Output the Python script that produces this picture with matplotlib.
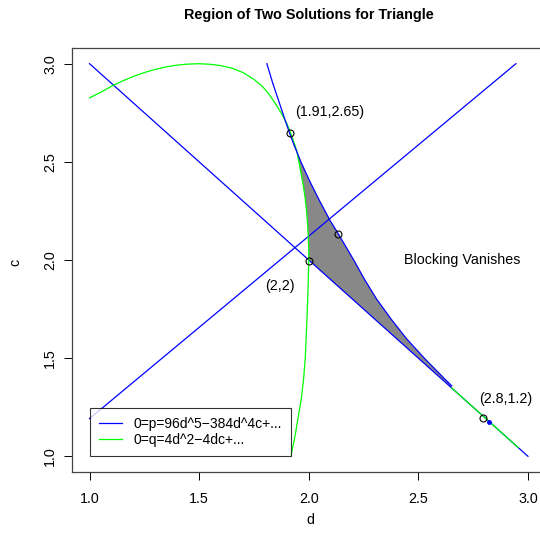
import matplotlib
matplotlib.use("Agg")
import matplotlib.pyplot as plt
from matplotlib.lines import Line2D

plt.rcParams['font.family'] = ['Liberation Sans', 'DejaVu Sans']

# ---- data ----
# straight line factor of p: c = 4 - d
line1_d = [1.0, 3.0]
line1_c = [3.0, 1.0]
# second straight line
line2_d = [1.0, 2.945]
line2_c = [1.192, 3.0]
# curved branch of p = 0
pcurve_d = [1.809, 1.836, 1.866, 1.896, 1.912, 1.928, 1.964, 2.005, 2.050, 2.098, 2.135,
            2.205, 2.255, 2.310, 2.375, 2.445, 2.527, 2.615, 2.652]
pcurve_c = [3.000, 2.900, 2.800, 2.700, 2.648, 2.600, 2.500, 2.400, 2.300, 2.200, 2.133,
            2.000, 1.900, 1.800, 1.700, 1.600, 1.500, 1.400, 1.359]
# q = 0 curve, upper arc
qup_d = [1.000, 1.050, 1.100, 1.150, 1.200, 1.250, 1.300, 1.350, 1.400, 1.450, 1.500,
         1.550, 1.600, 1.650, 1.700, 1.750, 1.780, 1.800, 1.820, 1.840, 1.860, 1.880,
         1.900, 1.920, 1.935]
qup_c = [2.826, 2.854, 2.885, 2.912, 2.935, 2.955, 2.971, 2.984, 2.993, 2.998, 3.000,
         2.997, 2.990, 2.977, 2.955, 2.920, 2.893, 2.870, 2.842, 2.810, 2.775, 2.738,
         2.695, 2.640, 2.590]
# q = 0 curve, part bounding the shaded region
qmid_d = [1.945, 1.955, 1.965, 1.975, 1.983, 1.990, 1.995, 1.998, 2.000, 2.000]
qmid_c = [2.558, 2.500, 2.440, 2.380, 2.320, 2.250, 2.180, 2.115, 2.050, 2.000]
# q = 0 curve, lower part
qlow_d = [2.000, 1.998, 1.995, 1.992, 1.988, 1.984, 1.977, 1.967, 1.952, 1.937, 1.918]
qlow_c = [2.000, 1.900, 1.800, 1.700, 1.600, 1.500, 1.400, 1.300, 1.200, 1.100, 1.000]
# q = 0 also along c = 4 - d segment
qline_d = [2.652, 2.955]
qline_c = [1.348, 1.045]
# marked points
pts_d = [1.913, 2.134, 2.001, 2.797]
pts_c = [2.648, 2.131, 1.996, 1.194]
extra_d = [2.820]
extra_c = [1.175]
# annotations
ann_text = ["(1.91,2.65)", "(2,2)", "(2.8,1.2)", "Blocking Vanishes"]
ann_d = [2.097, 1.869, 2.899, 2.699]
ann_c = [2.752, 1.869, 1.290, 2.002]
ticks = [1.0, 1.5, 2.0, 2.5, 3.0]
tick_labels = ["1.0", "1.5", "2.0", "2.5", "3.0"]
legend_labels = ["0=p=96d^5\u2212384d^4c+...", "0=q=4d^2\u22124dc+..."]

W = H = 540
fig = plt.figure(figsize=(5.4, 5.4), dpi=100)
L, R, T, B = 72, 545.5, 48, 472
ax = fig.add_axes([L / W, 1 - B / H, (R - L) / W, (B - T) / H])
ax.set_xlim(0.92, 3.08)
ax.set_ylim(0.92, 3.08)

blue = '#0000FF'
green = '#00FF00'
fs = 10.3

# shaded region: q-curve (left), line c=4-d (bottom), p-curve (right)
region_d = qmid_d + [qline_d[0]] + pcurve_d[::-1]
region_c = qmid_c + [qline_c[0]] + pcurve_c[::-1]
ax.fill(region_d[:-4], region_c[:-4], color='#888888', lw=0, zorder=1)

ax.plot(line1_d, line1_c, color=blue, lw=0.9, zorder=2)
ax.plot(line2_d, line2_c, color=blue, lw=0.9, zorder=2)
ax.plot(qup_d + qmid_d + qlow_d, qup_c + qmid_c + qlow_c, color=green, lw=0.9, zorder=2)
ax.plot(pcurve_d, pcurve_c, color=blue, lw=0.9, zorder=3)
ax.plot(qline_d, qline_c, color=green, lw=0.9, zorder=3)
ax.plot(pts_d, pts_c, 'o', mfc='none', mec='black', ms=5, mew=0.8, zorder=5)
ax.plot(extra_d, extra_c, 'o', color=blue, ms=2.5, zorder=4)

for t, d, c in zip(ann_text, ann_d, ann_c):
    ax.text(d, c, t, ha='center', va='center', fontsize=fs)

ax.set_xticks(ticks)
ax.set_xticklabels(tick_labels)
ax.set_yticks(ticks)
ax.set_yticklabels(tick_labels, rotation=90, va='center')
ax.tick_params(direction='out', length=5.8, width=0.7, labelsize=fs)
ax.tick_params(axis='x', pad=8.5)
ax.tick_params(axis='y', pad=5)
for s in ax.spines.values():
    s.set_linewidth(0.9)
    s.set_color('#444444')

fig.text((L + R) / 2 / W, 1 - 15 / H, "Region of Two Solutions for Triangle",
         ha='center', va='center', fontsize=10.4, fontweight='bold')
fig.text(310 / W, 1 - 520 / H, "d", ha='center', va='center', fontsize=fs)
fig.text(15 / W, 1 - 262 / H, "c", ha='center', va='center', fontsize=fs, rotation=90)

handles = [Line2D([0], [0], color=blue, lw=0.9), Line2D([0], [0], color=green, lw=0.9)]
leg = ax.legend(handles, legend_labels, loc='lower left', bbox_to_anchor=(1.0, 1.0),
                bbox_transform=ax.transData, fontsize=10, frameon=True, fancybox=False,
                borderaxespad=0, handlelength=1.7, handletextpad=0.8, borderpad=0.65,
                labelspacing=0.15)
leg.get_frame().set_edgecolor('black')
leg.get_frame().set_linewidth(0.8)

fig.savefig("out.png", dpi=100)
